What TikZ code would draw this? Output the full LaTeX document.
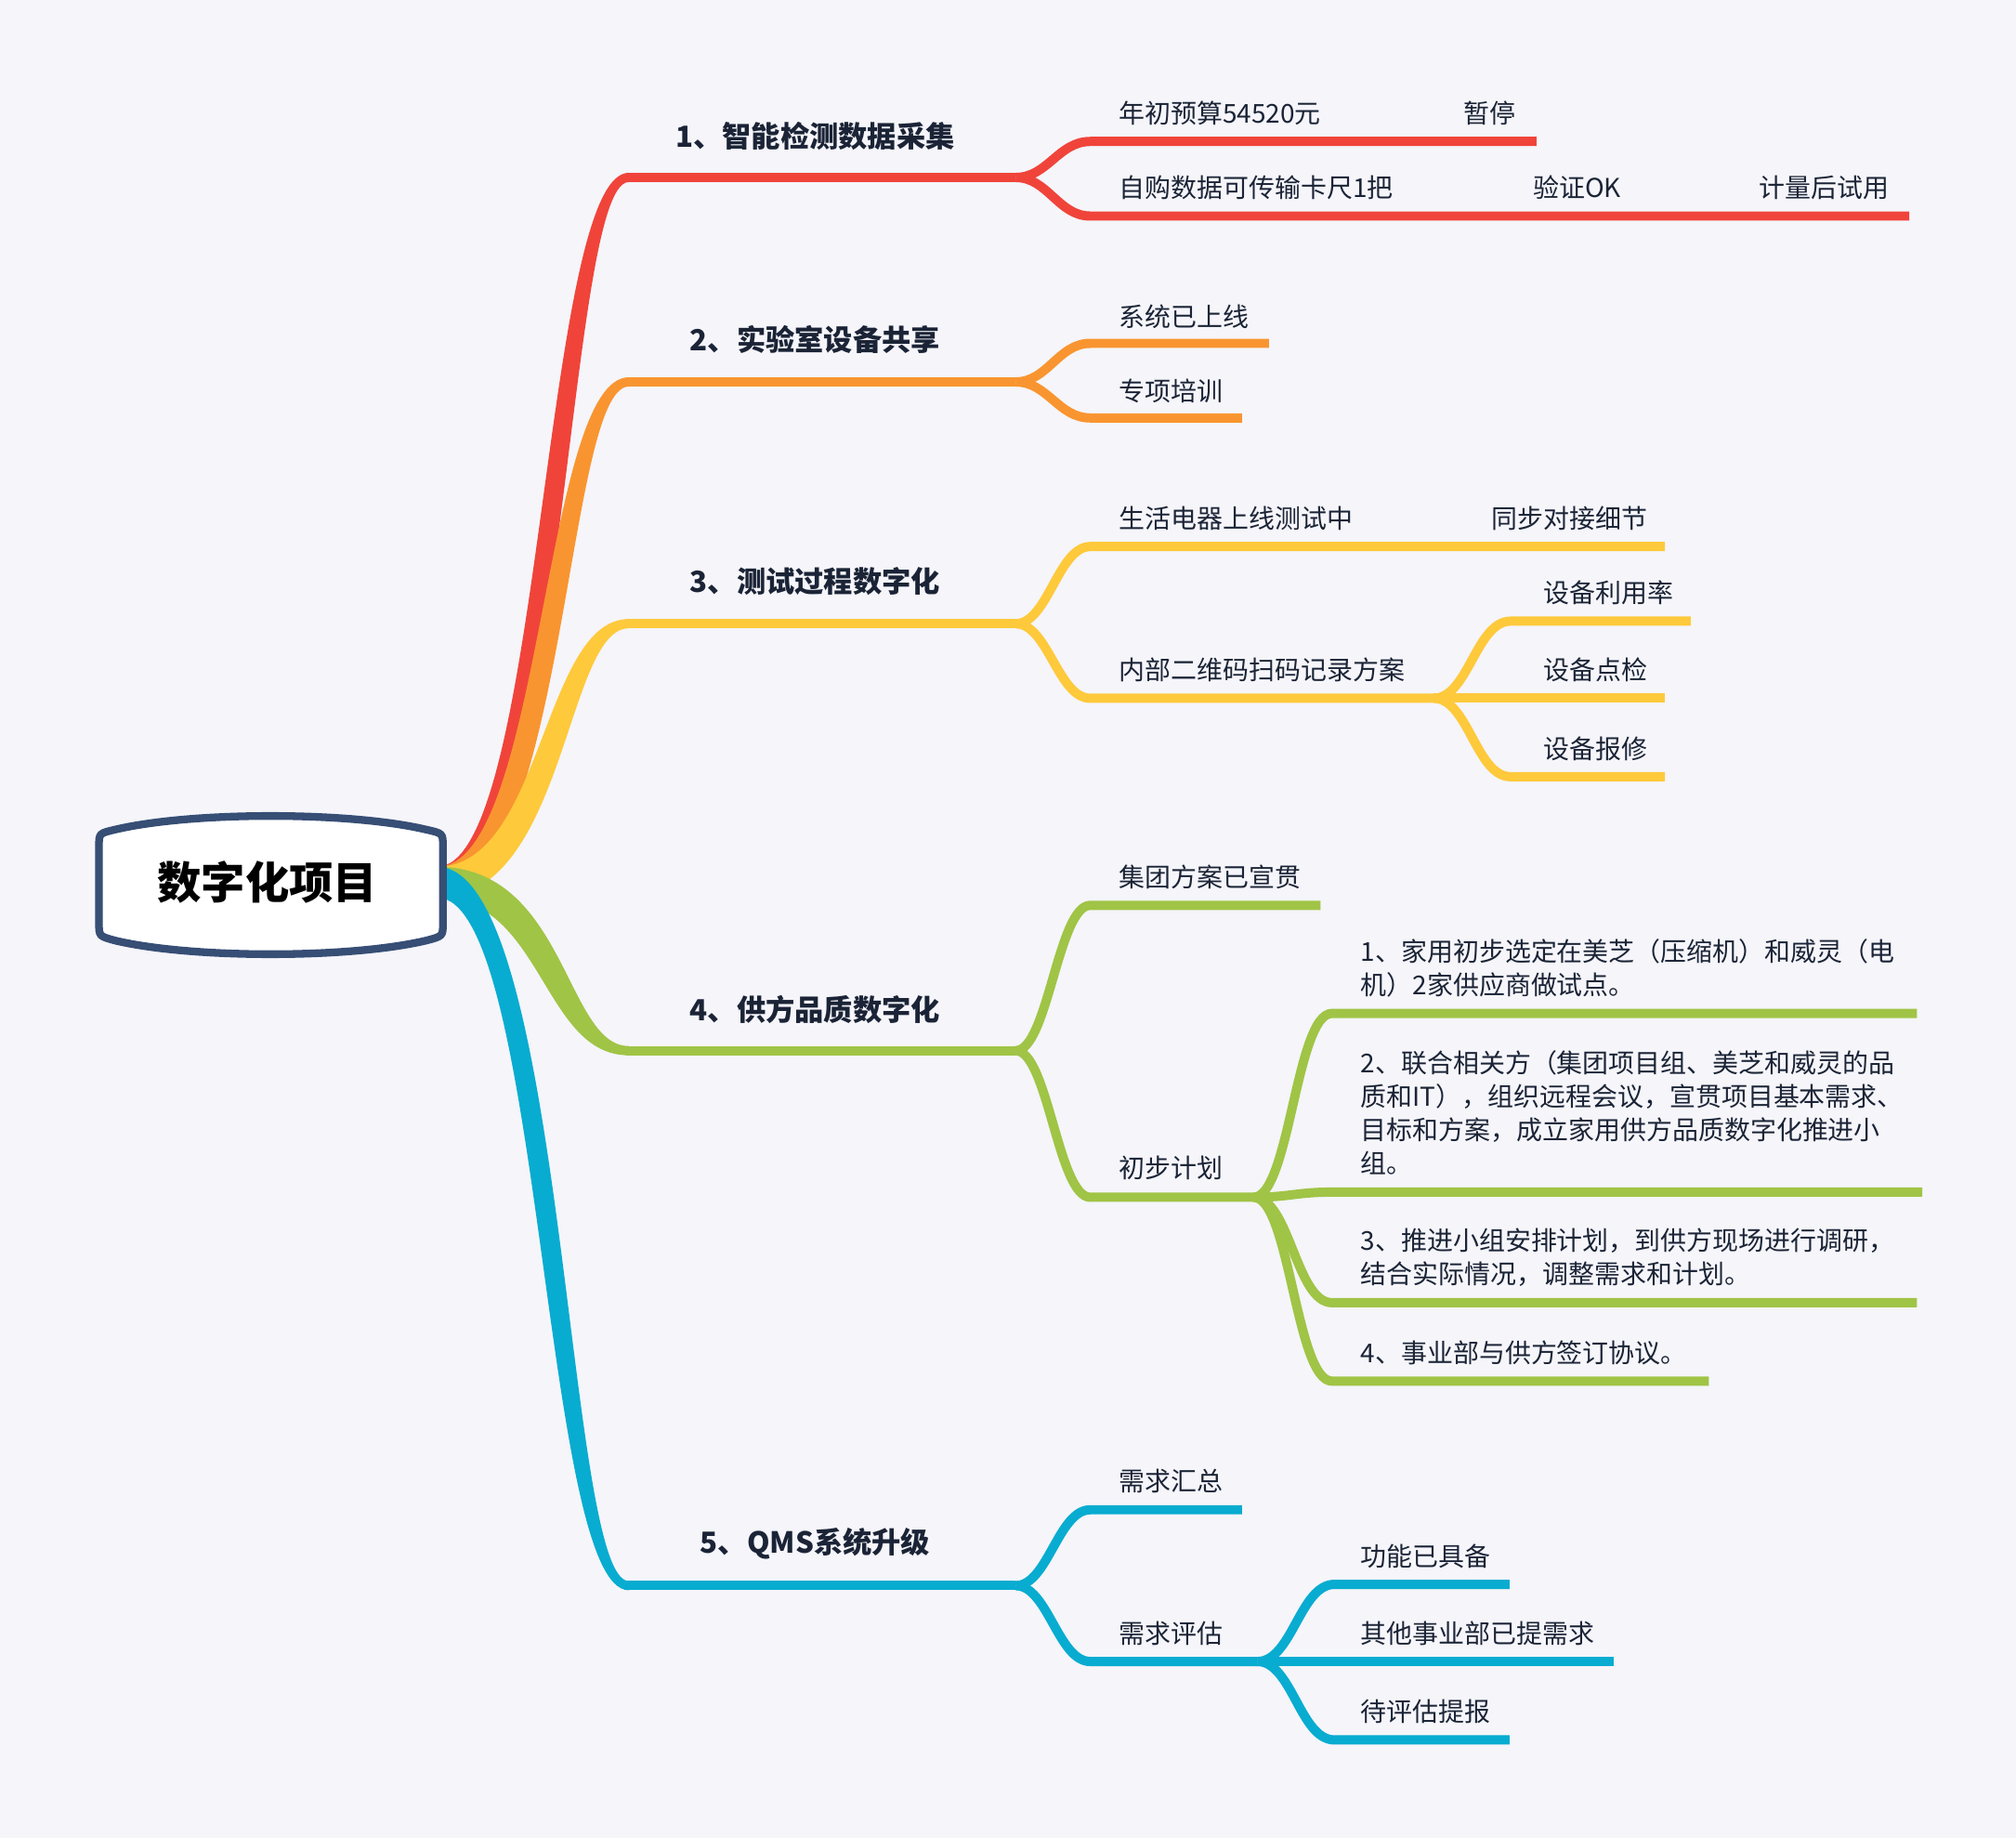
\documentclass[tikz,border=0pt]{standalone}
\usepackage{fontspec}
\setmainfont{Noto Sans CJK SC}
\definecolor{bgc}{HTML}{F5F5FA}
\definecolor{navy}{HTML}{374E75}
\definecolor{ink}{HTML}{1B2436}
\definecolor{cRed}{HTML}{F0443A}
\definecolor{cOrange}{HTML}{F99530}
\definecolor{cYellow}{HTML}{FEC93B}
\definecolor{cGreen}{HTML}{A0C446}
\definecolor{cBlue}{HTML}{08ACD0}
\begin{document}
\begin{tikzpicture}[x=0.5pt,y=-0.5pt,
  wire/.style={line width=3.6pt},
  leaf/.style={anchor=west,inner sep=0pt,text=ink,align=left,font=\fontsize{10.1pt}{13pt}\selectfont},
  topic/.style={inner sep=0pt,text=ink,font=\fontsize{11.3pt}{13pt}\selectfont\bfseries}]
\fill[bgc] (0,0) rectangle (1568,1429);
\useasboundingbox (0,0) rectangle (1568,1429);
% tapered trunks out of the centre
\coordinate (hub) at (340,686);
\foreach \col/\ye/\s in {cRed/138/1,cOrange/297/1,cYellow/485/1,cGreen/817/-1,cBlue/1233/-1}{
  \fill[\col] (340,674) .. controls ({431-9*\s},674) and ({431-9*\s},{\ye-3.6}) .. (489,{\ye-3.6})
    -- (489,{\ye+3.6}) .. controls ({431+9*\s},{\ye+3.6}) and ({431+9*\s},698) .. (340,698) -- cycle;
}
% 1
\coordinate (b1a) at (487,138); \coordinate (b1b) at (790,138);
\coordinate (c11a) at (848,110); \coordinate (c11b) at (1195,110);
\coordinate (c12a) at (848,168); \coordinate (c12b) at (1485,168);
\draw[wire,cRed] (b1a) -- (b1b);
\draw[wire,cRed] (b1b) .. controls +(25,0) and +(-25,0) .. (c11a) -- (c11b);
\draw[wire,cRed] (b1b) .. controls +(25,0) and +(-25,0) .. (c12a) -- (c12b);
\node[topic] (m1) at (634,106) {1、智能检测数据采集};
\node[leaf] (t11) at (870,88) {年初预算54520元};
\node[leaf] (t111) at (1138,88) {暂停};
\node[leaf] (t12) at (870,146) {自购数据可传输卡尺1把};
\node[leaf] (t121) at (1192,146) {验证OK};
\node[leaf] (t122) at (1368,146) {计量后试用};
% 2
\coordinate (b2a) at (487,297); \coordinate (b2b) at (790,297);
\coordinate (c21a) at (848,267); \coordinate (c21b) at (987,267);
\coordinate (c22a) at (848,325); \coordinate (c22b) at (966,325);
\draw[wire,cOrange] (b2a) -- (b2b);
\draw[wire,cOrange] (b2b) .. controls +(25,0) and +(-25,0) .. (c21a) -- (c21b);
\draw[wire,cOrange] (b2b) .. controls +(25,0) and +(-25,0) .. (c22a) -- (c22b);
\node[topic] (m2) at (634,264) {2、实验室设备共享};
\node[leaf] (t21) at (870,246) {系统已上线};
\node[leaf] (t22) at (870,304) {专项培训};
% 3
\coordinate (b3a) at (487,485); \coordinate (b3b) at (790,485);
\coordinate (c31a) at (848,425); \coordinate (c31b) at (1295,425);
\coordinate (c32a) at (848,543); \coordinate (c32b) at (1115,543);
\coordinate (d321a) at (1175,483); \coordinate (d321b) at (1315,483);
\coordinate (d322a) at (1175,543); \coordinate (d322b) at (1295,543);
\coordinate (d323a) at (1175,604); \coordinate (d323b) at (1295,604);
\draw[wire,cYellow] (b3a) -- (b3b);
\draw[wire,cYellow] (b3b) .. controls +(25,0) and +(-25,0) .. (c31a) -- (c31b);
\draw[wire,cYellow] (b3b) .. controls +(25,0) and +(-25,0) .. (c32a) -- (c32b);
\draw[wire,cYellow] (c32b) .. controls +(27,0) and +(-27,0) .. (d321a) -- (d321b);
\draw[wire,cYellow] (c32b) -- (d322a) -- (d322b);
\draw[wire,cYellow] (c32b) .. controls +(27,0) and +(-27,0) .. (d323a) -- (d323b);
\node[topic] (m3) at (634,452) {3、测试过程数字化};
\node[leaf] (t31) at (870,403) {生活电器上线测试中};
\node[leaf] (t311) at (1160,403) {同步对接细节};
\node[leaf] (t32) at (870,521) {内部二维码扫码记录方案};
\node[leaf] (t321) at (1200,461) {设备利用率};
\node[leaf] (t322) at (1200,521) {设备点检};
\node[leaf] (t323) at (1200,582) {设备报修};
% 4
\coordinate (b4a) at (487,817); \coordinate (b4b) at (790,817);
\coordinate (c41a) at (848,704); \coordinate (c41b) at (1027,704);
\coordinate (c42a) at (848,931); \coordinate (c42b) at (975,931);
\coordinate (d421a) at (1036,788); \coordinate (d421b) at (1491,788);
\coordinate (d422a) at (1036,927); \coordinate (d422b) at (1495,927);
\coordinate (d423a) at (1036,1013); \coordinate (d423b) at (1491,1013);
\coordinate (d424a) at (1036,1074); \coordinate (d424b) at (1329,1074);
\draw[wire,cGreen] (b4a) -- (b4b);
\draw[wire,cGreen] (b4b) .. controls +(25,0) and +(-25,0) .. (c41a) -- (c41b);
\draw[wire,cGreen] (b4b) .. controls +(25,0) and +(-25,0) .. (c42a) -- (c42b);
\foreach \k in {1,...,4}
  \draw[wire,cGreen] (c42b) .. controls +(28,0) and +(-28,0) .. (d42\k a) -- (d42\k b);
\node[topic] (m4) at (634,785) {4、供方品质数字化};
\node[leaf] (t41) at (870,682) {集团方案已宣贯};
\node[leaf] (t42) at (870,908) {初步计划};
\node[leaf] (t421) at (1058,753) {1、家用初步选定在美芝（压缩机）和威灵（电\\机）2家供应商做试点。};
\node[leaf] (t422) at (1058,865) {2、联合相关方（集团项目组、美芝和威灵的品\\质和IT），组织远程会议，宣贯项目基本需求、\\目标和方案，成立家用供方品质数字化推进小\\组。};
\node[leaf] (t423) at (1058,978) {3、推进小组安排计划，到供方现场进行调研，\\结合实际情况，调整需求和计划。};
\node[leaf] (t424) at (1058,1052) {4、事业部与供方签订协议。};
% 5
\coordinate (b5a) at (487,1233); \coordinate (b5b) at (790,1233);
\coordinate (c51a) at (848,1174); \coordinate (c51b) at (966,1174);
\coordinate (c52a) at (848,1292); \coordinate (c52b) at (978,1292);
\coordinate (d521a) at (1038,1232); \coordinate (d521b) at (1174,1232);
\coordinate (d522a) at (1038,1292); \coordinate (d522b) at (1255,1292);
\coordinate (d523a) at (1038,1353); \coordinate (d523b) at (1174,1353);
\draw[wire,cBlue] (b5a) -- (b5b);
\draw[wire,cBlue] (b5b) .. controls +(25,0) and +(-25,0) .. (c51a) -- (c51b);
\draw[wire,cBlue] (b5b) .. controls +(25,0) and +(-25,0) .. (c52a) -- (c52b);
\draw[wire,cBlue] (c52b) .. controls +(27,0) and +(-27,0) .. (d521a) -- (d521b);
\draw[wire,cBlue] (c52b) -- (d522a) -- (d522b);
\draw[wire,cBlue] (c52b) .. controls +(27,0) and +(-27,0) .. (d523a) -- (d523b);
\node[topic] (m5) at (634,1200) {5、QMS系统升级};
\node[leaf] (t51) at (870,1152) {需求汇总};
\node[leaf] (t52) at (870,1270) {需求评估};
\node[leaf] (t521) at (1058,1210) {功能已具备};
\node[leaf] (t522) at (1058,1270) {其他事业部已提需求};
\node[leaf] (t523) at (1058,1331) {待评估提报};
% centre topic
\draw[navy,line width=3pt,fill=white] (77,658) .. controls (77,648) .. (90,645)
  .. controls (150,631) and (271,631) .. (331,645) .. controls (344.5,648) .. (344.5,658)
  -- (344.5,718) .. controls (344.5,728) .. (331,731.5)
  .. controls (271,745.5) and (150,745.5) .. (90,731.5) .. controls (77,728) .. (77,718) -- cycle;
\node[font=\fontsize{17.1pt}{20pt}\selectfont\bfseries] (root) at (208,686) {数字化项目};
\end{tikzpicture}
\end{document}
